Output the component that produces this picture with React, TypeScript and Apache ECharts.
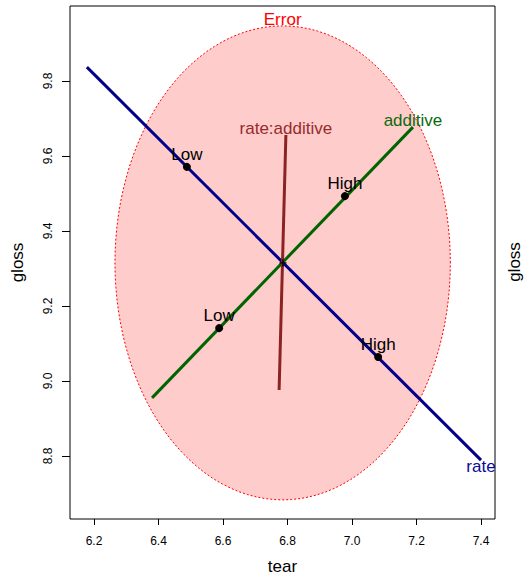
import React, { useEffect, useRef } from "react";
import * as echarts from "echarts";

// Tick positions on the two axes
const tearTicks = [6.2, 6.4, 6.6, 6.8, 7.0, 7.2, 7.4];
const glossTicks = [8.8, 9.0, 9.2, 9.4, 9.6, 9.8];

// Error ellipse: centre (tear, gloss) and half-axes (tear, gloss)
const errorCenter = [6.785, 9.315];
const errorRadii = [0.52, 0.632];

// Hypothesis "ellipses" (degenerate: 1 df → line segments)
const rateLine = [
  [6.178, 9.837],
  [7.4, 8.789],
];
const additiveLine = [
  [6.38, 8.955],
  [7.189, 9.677],
];
const interactionLine = [
  [6.774, 8.976],
  [6.795, 9.656],
];

// Group means
const rateMeans = [
  { name: "Low", value: [6.488, 9.571] },
  { name: "High", value: [7.081, 9.064] },
];
const additiveMeans = [
  { name: "Low", value: [6.588, 9.141] },
  { name: "High", value: [6.978, 9.493] },
];
const grandMean = [6.786, 9.315];

const FONT = "Liberation Sans, Arial, Helvetica, sans-serif";
const RATE = "#00008B";
const ADD = "#006400";
const INTER = "#8B2323";

export default function App() {
  const ref = useRef<HTMLDivElement>(null);

  useEffect(() => {
    if (!ref.current) return;
    const chart = echarts.init(ref.current, null, { renderer: "svg" });

    const endLabel = (
      pt: number[],
      text: string,
      color: string,
      position: "top" | "bottom"
    ) => ({
      value: pt,
      label: {
        show: true,
        position,
        distance: -2,
        formatter: text,
        color,
        fontSize: 17,
        fontFamily: FONT,
      },
    });

    const option: any = {
      animation: false,
      backgroundColor: "#ffffff",
      textStyle: { fontFamily: FONT },
      grid: {
        left: 70,
        right: 30,
        top: 6,
        bottom: 57,
        containLabel: false,
        outerBoundsMode: "none",
        show: true,
        borderColor: "#000",
        borderWidth: 1,
        backgroundColor: "transparent",
      },
      xAxis: {
        type: "value",
        min: 6.1256,
        max: 7.4434,
        name: "tear",
        nameLocation: "middle",
        nameGap: 39,
        nameTextStyle: { fontSize: 17, color: "#000", fontFamily: FONT },
        axisLine: { show: false },
        splitLine: { show: false },
        axisTick: {
          show: true,
          length: 6,
          customValues: tearTicks,
          lineStyle: { color: "#000" },
        },
        axisLabel: {
          customValues: tearTicks,
          fontSize: 12,
          color: "#000",
          margin: 16,
          fontFamily: FONT,
          formatter: (v: number) => v.toFixed(1),
        },
      },
      yAxis: {
        type: "value",
        min: 8.632,
        max: 10.0,
        name: "gloss",
        nameLocation: "middle",
        nameGap: 44,
        nameRotate: 90,
        nameTextStyle: { fontSize: 17, color: "#000", fontFamily: FONT },
        axisLine: { show: false },
        splitLine: { show: false },
        axisTick: {
          show: true,
          length: 8,
          customValues: glossTicks,
          lineStyle: { color: "#000" },
        },
        axisLabel: {
          customValues: glossTicks,
          rotate: 90,
          fontSize: 12,
          color: "#000",
          margin: 16,
          fontFamily: FONT,
          formatter: (v: number) => v.toFixed(1),
        },
      },
      graphic: [
        {
          type: "text",
          x: 514,
          y: 262,
          rotation: Math.PI / 2,
          style: {
            text: "gloss",
            fill: "#000",
            fontSize: 17,
            fontFamily: FONT,
            align: "center",
            verticalAlign: "middle",
          },
        },
      ],
      series: [
        {
          type: "custom",
          z: 1,
          data: [[errorCenter[0], errorCenter[1], errorRadii[0], errorRadii[1]]],
          encode: { x: 0, y: 1 },
          renderItem: (_params: any, api: any) => {
            const cx = api.value(0);
            const cy = api.value(1);
            const rx = api.value(2);
            const ry = api.value(3);
            const pts: number[][] = [];
            const n = 120;
            for (let i = 0; i < n; i++) {
              const t = (2 * Math.PI * i) / n;
              pts.push(api.coord([cx + rx * Math.cos(t), cy + ry * Math.sin(t)]));
            }
            return {
              type: "polygon",
              shape: { points: pts },
              style: {
                fill: "rgba(255,0,0,0.2)",
                stroke: "#FF0000",
                lineWidth: 1,
                lineDash: [2, 2],
              },
            };
          },
        },
        // Error label at the top of the ellipse
        {
          type: "scatter",
          z: 5,
          symbolSize: 0,
          itemStyle: { opacity: 1 },
          data: [
            endLabel(
              [errorCenter[0], errorCenter[1] + errorRadii[1]],
              "Error",
              "#FF0000",
              "top"
            ),
          ],
        },
        {
          type: "line",
          z: 3,
          data: rateLine,
          showSymbol: false,
          lineStyle: { color: RATE, width: 3 },
        },
        {
          type: "line",
          z: 3,
          data: additiveLine,
          showSymbol: false,
          lineStyle: { color: ADD, width: 3 },
        },
        {
          type: "line",
          z: 3,
          data: interactionLine,
          showSymbol: false,
          lineStyle: { color: INTER, width: 3 },
        },
        // Term labels at segment ends
        {
          type: "scatter",
          z: 5,
          symbolSize: 0,
          itemStyle: { opacity: 1 },
          data: [
            endLabel(rateLine[1], "rate", "#0A0A9A", "bottom"),
            endLabel(additiveLine[1], "additive", "#0A6A0A", "top"),
            endLabel(interactionLine[1], "rate:additive", "#952B2B", "top"),
          ],
        },
        // Level means with their labels
        {
          type: "scatter",
          z: 6,
          symbol: "circle",
          symbolSize: 8,
          itemStyle: { color: "#000", opacity: 1 },
          label: {
            show: true,
            position: "top",
            distance: 0,
            formatter: (p: any) => p.name,
            color: "#000",
            fontSize: 17,
            fontFamily: FONT,
          },
          data: [...rateMeans, ...additiveMeans],
        },
        // Grand mean marker
        {
          type: "scatter",
          z: 6,
          symbol: "path://M4,0H6V4H10V6H6V10H4V6H0V4H4Z",
          symbolSize: 7,
          itemStyle: { color: "#000", opacity: 1 },
          data: [grandMean],
        },
      ],
    };

    chart.setOption(option);
    return () => chart.dispose();
  }, []);

  return (
    <div
      ref={ref}
      style={{ position: "fixed", left: 0, top: 0, width: 525, height: 576 }}
    />
  );
}
